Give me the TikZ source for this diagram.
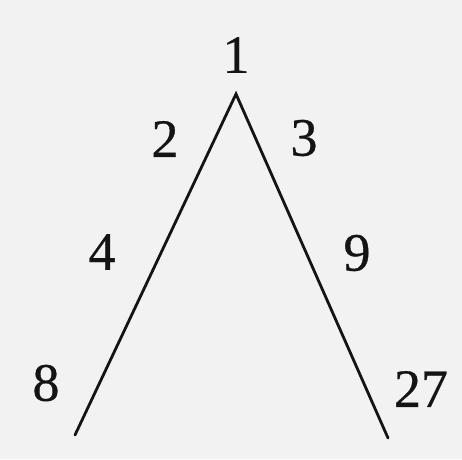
\documentclass[tikz,border=0pt]{standalone}
\usepackage{fontspec}
\setmainfont{Liberation Serif}
\newfontfamily\numfont[FakeBold=0.6]{Liberation Serif}
\begin{document}
\begin{tikzpicture}[x=1pt,y=-1pt,
  num/.style={inner sep=0pt,font=\numfont\fontsize{54}{54}\selectfont,text=black!92},
  edge/.style={line width=2.8pt,draw=black!92,line cap=round}]
\fill[black!5] (0,0) rectangle (462,459);
\useasboundingbox (0,0) rectangle (462,459);
\coordinate (top) at (236,94);
\coordinate (bl) at (75,435);
\coordinate (br) at (388,438);
\draw[edge] (bl) -- (top) -- (br);
\node[num] (n1) at (236,55) {1};
\node[num] (n2) at (165,139) {2};
\node[num] (n3) at (304,138) {3};
\node[num] (n4) at (102,252) {4};
\node[num] (n9) at (357,253) {9};
\node[num] (n8) at (46,383) {8};
\node[num] (n27) at (421,389) {27};
\end{tikzpicture}
\end{document}
